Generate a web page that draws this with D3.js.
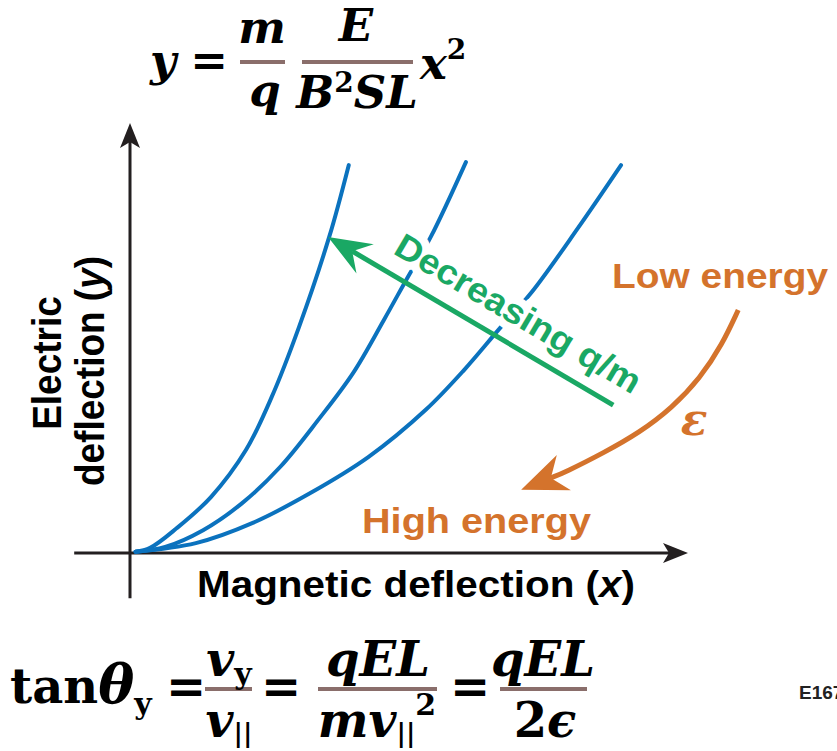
<!DOCTYPE html>
<html>
<head>
<meta charset="utf-8">
<script src="https://cdn.jsdelivr.net/npm/d3@7"></script>
<style>
  body { margin: 0; background: #fff; }
</style>
</head>
<body>
<div id="chart"></div>
<script>
// curves of y = (m/q) E/(B^2 S L) x^2 (arbitrary units 0-100)
var steepX = [1.0, 3.6, 8.4, 14.5, 20.8, 25.4, 30.3, 35.7, 39.2];
var steepY = [0.3, 1.2, 5.8, 13.0, 24.0, 36.3, 52.6, 73.5, 90.2];
var midX = [1.0, 6.3, 13.1, 20.1, 26.9, 33.7, 40.0, 45.5, 49.8, 53.9, 60.2];
var midY = [0.3, 1.4, 5.3, 11.6, 20.0, 30.9, 41.9, 54.2, 64.2, 73.5, 90.9];
var flatX = [1.0, 11.8, 22.0, 32.4, 42.7, 53.0, 59.9, 66.3, 71.9, 80.3, 88.0];
var flatY = [0.3, 2.3, 7.0, 14.0, 22.3, 33.3, 42.6, 52.3, 60.5, 75.6, 90.2];

// annotation arrows (same units)
var qmArrowX = [86.6, 35.5];          // tail -> tip
var qmArrowY = [34.4, 73.5];
var energyArcX = [109.0, 106.1, 102.2, 97.1, 91.4, 84.9, 78.0];
var energyArcY = [56.5, 48.4, 40.7, 33.7, 28.1, 23.3, 18.8];
var energyTip = [70.1, 14.7];

var axisXExtent = [-10, 100];
var axisYExtent = [-10.5, 100];

var blue = '#0b72be', green = '#1aa864', orange = '#d4732c', ink = '#231f20', barCol = '#8a6e6b';

var width = 837, height = 751;

var svg = d3.select('#chart').append('svg')
    .attr('width', width)
    .attr('height', height);

var x = d3.scaleLinear().domain([0, 100]).range([130, 688]);
var y = d3.scaleLinear().domain([0, 100]).range([553, 123]);

var zip = (xs, ys) => xs.map((v, i) => [v, ys[i]]);

var line = d3.line()
    .x(d => x(d[0]))
    .y(d => y(d[1]))
    .curve(d3.curveCatmullRom.alpha(0.5));

// arrow head polygon: tip, wing, notch, wing (pixels)
function head(tip, from, len, hw, notch) {
    var dx = tip[0] - from[0], dy = tip[1] - from[1], d = Math.hypot(dx, dy);
    var ux = dx / d, uy = dy / d, nx = -uy, ny = ux;
    var bx = tip[0] - ux * len, by = tip[1] - uy * len;
    return {
        poly: [tip, [bx + nx * hw, by + ny * hw], [tip[0] - ux * notch, tip[1] - uy * notch], [bx - nx * hw, by - ny * hw]],
        notch: [tip[0] - ux * notch, tip[1] - uy * notch]
    };
}

function drawArrowLine(from, tip, col, sw, len, hw, notch) {
    var h = head(tip, from, len, hw, notch);
    svg.append('line')
        .attr('x1', from[0]).attr('y1', from[1])
        .attr('x2', h.notch[0]).attr('y2', h.notch[1])
        .style('stroke', col).style('stroke-width', sw);
    svg.append('polygon')
        .attr('points', h.poly.map(p => p.join(',')).join(' '))
        .style('fill', col);
}

// axes
drawArrowLine([x(axisXExtent[0]), y(0)], [x(axisXExtent[1]), y(0)], ink, 3, 25, 10, 19);
drawArrowLine([x(0), y(axisYExtent[0])], [x(0), y(axisYExtent[1])], ink, 3, 25, 10, 19);

// the three parabolas
svg.selectAll('path.curve')
    .data([zip(steepX, steepY), zip(midX, midY), zip(flatX, flatY)])
    .enter().append('path')
    .classed('curve', true)
    .attr('d', line)
    .style('fill', 'none')
    .style('stroke', blue)
    .style('stroke-width', 4)
    .style('stroke-linecap', 'round');

// "Decreasing q/m" label with white halo that breaks the curves
var qmTail = [x(qmArrowX[0]), y(qmArrowY[0])];
var qmTip = [x(qmArrowX[1]), y(qmArrowY[1])];
var qmAngle = Math.atan2(qmTail[1] - qmTip[1], qmTail[0] - qmTip[0]) * 180 / Math.PI;

var qmLabel = svg.append('g')
    .attr('transform', 'translate(392,253) rotate(' + qmAngle + ')');
['halo', 'text'].forEach(function(k) {
    qmLabel.append('text')
        .attr('x', 0).attr('y', 0)
        .attr('textLength', 279)
        .attr('lengthAdjust', 'spacingAndGlyphs')
        .style('font-family', '"Liberation Sans", Arial, sans-serif')
        .style('font-weight', 'bold')
        .style('font-size', '35px')
        .style('fill', k == 'halo' ? '#fff' : green)
        .style('stroke', k == 'halo' ? '#fff' : 'none')
        .style('stroke-width', k == 'halo' ? 16 : 0)
        .style('stroke-linejoin', 'round')
        .text('Decreasing q/m');
});

drawArrowLine(qmTail, qmTip, green, 5, 43, 17, 28);

// energy arc with arrow
var arcPts = zip(energyArcX, energyArcY);
var tipPx = [x(energyTip[0]), y(energyTip[1])];
var lastPx = [x(arcPts[arcPts.length - 1][0]), y(arcPts[arcPts.length - 1][1])];
var eh = head(tipPx, lastPx, 46, 19, 32);
arcPts.push([x.invert(eh.notch[0]), y.invert(eh.notch[1])]);
svg.append('path')
    .attr('d', d3.line().x(d => x(d[0])).y(d => y(d[1])).curve(d3.curveBasis)(arcPts))
    .style('fill', 'none')
    .style('stroke', orange)
    .style('stroke-width', 5);
svg.append('polygon')
    .attr('points', eh.poly.map(p => p.join(',')).join(' '))
    .style('fill', orange);

// orange labels
var sans = '"Liberation Sans", Arial, sans-serif';
svg.append('text')
    .attr('x', 612).attr('y', 288)
    .attr('textLength', 216).attr('lengthAdjust', 'spacingAndGlyphs')
    .style('font-family', sans).style('font-weight', 'bold').style('font-size', '35px')
    .style('fill', orange)
    .text('Low energy');
svg.append('text')
    .attr('x', 362).attr('y', 533)
    .attr('textLength', 229).attr('lengthAdjust', 'spacingAndGlyphs')
    .style('font-family', sans).style('font-weight', 'bold').style('font-size', '35px')
    .style('fill', orange)
    .text('High energy');
svg.append('text')
    .attr('x', 694).attr('y', 435)
    .attr('text-anchor', 'middle')
    .style('font-family', '"DejaVu Serif", serif').style('font-style', 'italic').style('font-weight', 'bold')
    .style('font-size', '44px')
    .style('fill', orange)
    .text('ε');

// axis titles
var xTitle = svg.append('text')
    .attr('x', 197).attr('y', 597)
    .attr('textLength', 438).attr('lengthAdjust', 'spacingAndGlyphs')
    .style('font-family', sans).style('font-weight', 'bold').style('font-size', '37px')
    .style('fill', '#000');
xTitle.append('tspan').text('Magnetic deflection (');
xTitle.append('tspan').style('font-style', 'italic').text('x');
xTitle.append('tspan').text(')');

var yTitle = svg.append('g')
    .attr('transform', 'translate(104,371) scale(1.08,1) rotate(-90)');
var yt2 = yTitle.append('text')
    .attr('text-anchor', 'middle')
    .style('font-family', sans).style('font-weight', 'bold').style('font-size', '37px')
    .style('fill', '#000');
yt2.append('tspan').text('deflection (');
yt2.append('tspan').style('font-style', 'italic').text('y');
yt2.append('tspan').text(')');
yTitle.append('text')
    .attr('text-anchor', 'middle')
    .attr('x', 8).attr('y', -40)
    .style('font-family', sans).style('font-weight', 'bold').style('font-size', '37px')
    .style('fill', '#000')
    .text('Electric');

// equations
var serif = '"DejaVu Serif", serif';
function mathText(px, py, size, anchor) {
    return svg.append('text')
        .attr('x', px).attr('y', py)
        .attr('text-anchor', anchor || 'middle')
        .style('font-family', serif).style('font-weight', 'bold').style('font-style', 'italic')
        .style('font-size', size + 'px')
        .style('fill', '#000');
}
function fracBar(x1, x2, yy) {
    svg.append('rect')
        .attr('x', x1).attr('y', yy - 2)
        .attr('width', x2 - x1).attr('height', 4)
        .style('fill', barCol);
}

// top: y = m/q * E/(B^2 S L) * x^2
mathText(163, 76, 45).text('y');
mathText(209, 76, 45).style('font-style', 'normal').text('=');
fracBar(240, 285, 62);
mathText(262, 43, 45).text('m');
mathText(265, 106, 45).text('q');
fracBar(302, 413, 62);
mathText(356, 41, 45).text('E');
var bsl = mathText(357, 108, 45);
bsl.append('tspan').text('B');
bsl.append('tspan').attr('dy', -16).style('font-style', 'normal').style('font-size', '28px').text('2');
bsl.append('tspan').attr('dy', 16).text('SL');
var x2 = mathText(420, 79, 45, 'start');
x2.append('tspan').text('x');
x2.append('tspan').attr('dy', -20).style('font-style', 'normal').style('font-size', '28px').text('2');

// bottom: tan(theta_y) = v_y/v_par = qEL/(m v_par^2) = qEL/(2 eps)
var tan = mathText(10, 703, 48, 'start');
tan.append('tspan').style('font-style', 'normal').text('tan');
tan.append('tspan').style('font-size', '54px').text('θ');
tan.append('tspan').attr('dy', 11).style('font-style', 'normal').style('font-size', '30px').text('y');
mathText(186, 703, 48).style('font-style', 'normal').text('=');
fracBar(205, 252, 689);
var vy = mathText(229, 676, 48);
vy.append('tspan').text('v');
vy.append('tspan').attr('dy', 8).style('font-style', 'normal').style('font-size', '30px').text('y');
var vp = mathText(229, 737, 48);
vp.append('tspan').text('v');
vp.append('tspan').attr('dy', 5).style('font-style', 'normal').style('font-size', '26px').text('||');
mathText(281, 703, 48).style('font-style', 'normal').text('=');
fracBar(318, 437, 689);
mathText(378, 676, 48).text('qEL');
var mv = mathText(377, 737, 48);
mv.append('tspan').text('mv');
mv.append('tspan').attr('dy', 5).style('font-style', 'normal').style('font-size', '26px').text('||');
mv.append('tspan').attr('dy', -27).style('font-style', 'normal').style('font-size', '30px').text('2');
mathText(470, 703, 48).style('font-style', 'normal').text('=');
fracBar(500, 587, 689);
mathText(543, 676, 48).text('qEL');
var te = mathText(545, 737, 48);
te.append('tspan').style('font-style', 'normal').text('2');
te.append('tspan').text('ϵ');

// figure id, clipped at the right edge as in the source
svg.append('text')
    .attr('x', 799).attr('y', 699)
    .style('font-family', sans).style('font-weight', 'bold').style('font-size', '19px')
    .style('fill', '#222')
    .text('E167');
</script>
</body>
</html>
